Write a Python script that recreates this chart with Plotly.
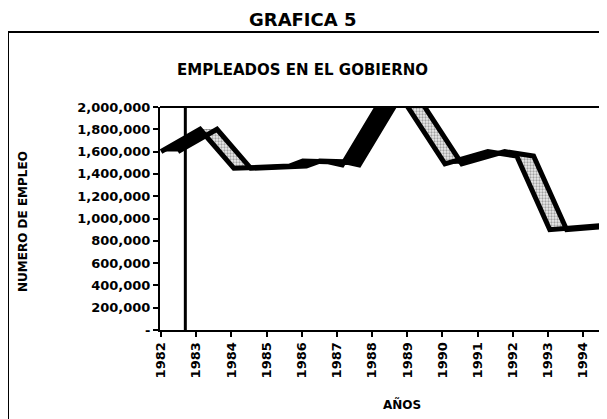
import plotly.graph_objects as go

# front edge of the 3-D ribbon (fractional years)
anios = [1982.0, 1983.11, 1984.07, 1985.65, 1986.03, 1986.72, 1987.15,
         1988.56, 1990.07, 1991.29, 1992.11, 1993.05, 1994.62]
empleados = [1600000, 1800000, 1450000, 1470000, 1515000, 1510000, 1480000,
             2220000, 1490000, 1600000, 1560000, 900000, 940000]

# axis ticks
tick_anios = list(range(1982, 1995))
tick_empleo = list(range(0, 2000001, 200000))
tick_empleo_txt = ["-"] + [f"{v:,}" for v in tick_empleo[1:]]

# depth of the ribbon (in years) and the stray vertical rule near 1983
DEPTH = 0.48
RULE_X = 1982.69

FONT = "DejaVu Sans"

# page body margin pushes the figure 8px right/down
OFF = 8
W, H = 607 - OFF, 419 - OFF
# plot area in window pixels
PL, PT, PW, PH = 160, 107, 445, 223


def px(x):
    return (x - PL) / PW


def py(y):
    return (PT + PH - y) / PH


back = [a + DEPTH for a in anios]

fig = go.Figure()

# ribbon faces: black on the way up, dotted grey on the way down
for i in range(len(anios) - 1):
    xs = [anios[i], anios[i + 1], back[i + 1], back[i], anios[i]]
    ys = [empleados[i], empleados[i + 1], empleados[i + 1], empleados[i], empleados[i]]
    if empleados[i + 1] < empleados[i] - 20000:
        fig.add_trace(go.Scatter(
            x=xs, y=ys, mode="lines", fill="toself", line=dict(width=0),
            fillcolor="#d9d9d9",
            fillpattern=dict(shape=".", fgcolor="#555555", bgcolor="#ececec",
                             size=3, solidity=0.45),
            hoverinfo="skip", showlegend=False))
    else:
        fig.add_trace(go.Scatter(
            x=xs, y=ys, mode="lines", fill="toself", line=dict(width=0),
            fillcolor="black", hoverinfo="skip", showlegend=False))

# ribbon edges
for xs in (anios, back):
    fig.add_trace(go.Scatter(
        x=xs, y=empleados, mode="lines",
        line=dict(color="black", width=5),
        hoverinfo="skip", showlegend=False))


def label(text, x, y, size, angle=0):
    return dict(text=text, xref="paper", yref="paper", x=px(x), y=py(y),
                xanchor="center", yanchor="middle", textangle=angle,
                showarrow=False, font=dict(size=size, weight="bold"))


fig.update_layout(
    width=W, height=H,
    margin=dict(l=PL - OFF, r=W - (PL - OFF) - PW, t=PT - OFF, b=H - (PT - OFF) - PH),
    paper_bgcolor="white", plot_bgcolor="white",
    font=dict(family=FONT, color="black"),
    shapes=[
        # plot frame: top and right edges
        dict(type="line", xref="paper", yref="paper", x0=0, x1=1, y0=1, y1=1,
             line=dict(color="black", width=2)),
        dict(type="line", xref="paper", yref="paper", x0=1, x1=1, y0=0, y1=1,
             line=dict(color="#777777", width=1.5, dash="dot")),
        # vertical rule
        dict(type="line", xref="x", yref="paper", x0=RULE_X, x1=RULE_X, y0=0, y1=1,
             line=dict(color="black", width=3)),
        # outer box
        dict(type="line", xref="paper", yref="paper", x0=px(8), x1=px(612),
             y0=py(32), y1=py(32), line=dict(color="black", width=2)),
        dict(type="line", xref="paper", yref="paper", x0=px(8), x1=px(8),
             y0=py(32), y1=py(430), line=dict(color="black", width=2)),
    ],
    annotations=[
        label("GRAFICA 5", 303, 19, 18),
        label("EMPLEADOS EN EL GOBIERNO", 302, 70, 15),
        label("NUMERO DE EMPLEO", 23, 222, 12, -90),
        label("AÑOS", 402, 404, 12),
    ],
)

fig.update_xaxes(
    range=[1981.97, 1994.62], tickvals=tick_anios, tickangle=-90,
    ticks="outside", ticklen=5, tickwidth=2, tickcolor="black",
    showline=True, linewidth=2, linecolor="black",
    showgrid=False, zeroline=False,
    tickfont=dict(family=FONT, size=13, weight="bold"))

fig.update_yaxes(
    range=[0, 2000000], tickvals=tick_empleo, ticktext=tick_empleo_txt,
    ticks="outside", ticklen=5, tickwidth=2, tickcolor="black",
    showline=True, linewidth=2, linecolor="black",
    showgrid=False, zeroline=False,
    tickfont=dict(family=FONT, size=13, weight="bold"))

fig.write_html("out.html")
